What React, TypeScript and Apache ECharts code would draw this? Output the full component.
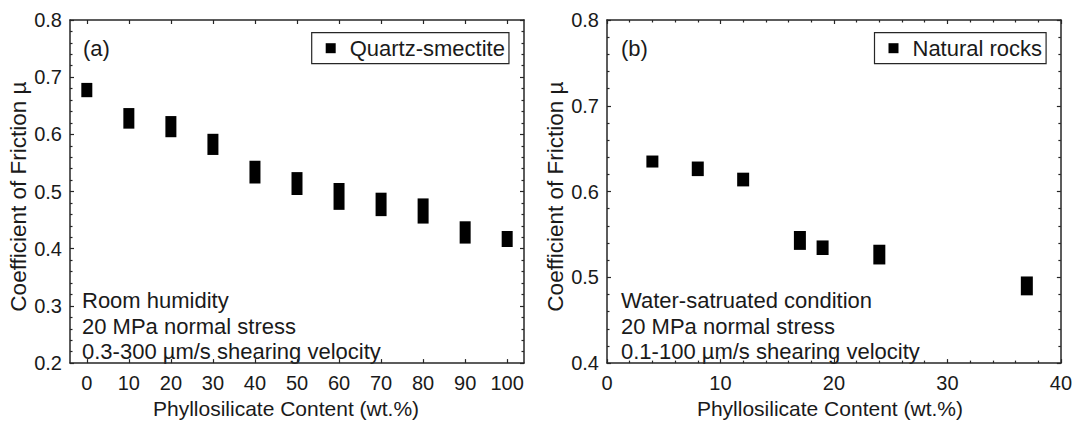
import React, { useEffect, useRef } from 'react';
import * as echarts from 'echarts';

// Panel (a): quartz-smectite mixtures, room humidity
const contentA = [0, 10, 20, 30, 40, 50, 60, 70, 80, 90, 100];
const lowA = [0.665, 0.61, 0.595, 0.564, 0.514, 0.494, 0.468, 0.457, 0.444, 0.409, 0.403];
const highA = [0.69, 0.646, 0.632, 0.601, 0.554, 0.534, 0.515, 0.498, 0.488, 0.448, 0.431];

// Panel (b): natural rocks, water-saturated
const contentB = [4, 8, 12, 17, 19, 24, 37];
const lowB = [0.628, 0.618, 0.606, 0.532, 0.526, 0.515, 0.479];
const highB = [0.642, 0.635, 0.622, 0.554, 0.543, 0.538, 0.501];

const xTicksA = [0, 10, 20, 30, 40, 50, 60, 70, 80, 90, 100];

const seriesNameA = 'Quartz-smectite';
const seriesNameB = 'Natural rocks';
const notesA = ['Room humidity', '20 MPa normal stress', '0.3-300 µm/s shearing velocity'];
const notesB = ['Water-satruated condition', '20 MPa normal stress', '0.1-100 µm/s shearing velocity'];
const yTitle = 'Coefficient of Friction µ';
const xTitle = 'Phyllosilicate Content (wt.%)';

const FONT = '"Liberation Sans", Arial, Helvetica, sans-serif';
const AX = '#262626';
const TXT = '#1a1a1a';

export default function App() {
  const ref = useRef<HTMLDivElement>(null);
  useEffect(() => {
    if (!ref.current) return;
    const chart = echarts.init(ref.current, undefined, { renderer: 'svg' });

    const axisLine = { show: true, onZero: false, lineStyle: { color: AX, width: 1.5 } };
    const tick = (extra: any = {}) => ({ show: true, inside: true, length: 4, lineStyle: { color: AX, width: 1.2 }, ...extra });
    const minor = (show: boolean) => ({ show, splitNumber: 5, length: 2.5, lineStyle: { color: AX, width: 1.2 } });
    const label = (show: boolean, extra: any = {}) => ({ show, color: TXT, fontSize: 20, fontFamily: FONT, ...extra });

    const xAxisCommon = (grid: number, position: 'top' | 'bottom', min: number, max: number, labels: boolean, custom?: number[], minorShow = false, shift = 0) => {
      const ax: any = {
        type: 'value', gridIndex: grid, position, min, max,
        axisLine, splitLine: { show: false },
        axisTick: tick(custom ? { customValues: custom } : {}),
        minorTick: minor(minorShow),
        axisLabel: label(labels, { margin: 10, ...(custom ? { customValues: custom } : {}) }),
      };
      if (!custom) ax.interval = 10;
      if (labels) {
        ax.name = xTitle; ax.nameLocation = 'middle'; ax.nameGap = 31;
        ax.nameTextStyle = { color: TXT, fontSize: 21, fontFamily: FONT, padding: [0, shift, 0, 0] };
      }
      return ax;
    };
    const yAxisCommon = (grid: number, position: 'left' | 'right', min: number, labels: boolean) => {
      const ax: any = {
        type: 'value', gridIndex: grid, position, min, max: 0.8, interval: 0.1,
        axisLine, splitLine: { show: false },
        axisTick: tick(), minorTick: minor(true),
        axisLabel: label(labels, { margin: 8, formatter: (v: number) => v.toFixed(1) }),
      };
      if (labels) {
        ax.name = yTitle; ax.nameLocation = 'middle'; ax.nameGap = 40;
        ax.nameTextStyle = { color: TXT, fontSize: 22.5, fontFamily: FONT, padding: [0, 10, 0, 0] };
      }
      return ax;
    };

    const rectSeries = (name: string, xs: number[], lo: number[], hi: number[], axisIdx: number, w: number) => ({
      type: 'custom', name, xAxisIndex: axisIdx, yAxisIndex: axisIdx,
      itemStyle: { color: '#000' },
      encode: { x: 0, y: [1, 2] },
      data: xs.map((x, i) => [x, lo[i], hi[i]]),
      renderItem: (params: any, api: any) => {
        const x = api.value(0);
        const top = api.coord([x, api.value(2)]);
        const bot = api.coord([x, api.value(1)]);
        return { type: 'rect', shape: { x: top[0] - w / 2, y: top[1], width: w, height: bot[1] - top[1] }, style: { fill: '#000' } };
      },
    });

    const legend = (name: string, left: number) => ({
      data: [name], left, top: 32.7, orient: 'horizontal', icon: 'rect', itemWidth: 10, itemHeight: 10,
      padding: [4.5, 4, 4.5, 14], borderColor: AX, borderWidth: 1.2, backgroundColor: '#fff', selectedMode: false,
      textStyle: { color: TXT, fontSize: 22, fontFamily: FONT, padding: [0, 0, 0, 9] },
    });

    const noteTexts = (lines: string[], x: number) => lines.map((t, i) => ({
      type: 'text', left: x, top: [289.5, 315.5, 340.5][i],
      style: { text: t, fill: TXT, fontSize: 22, fontFamily: FONT },
    }));

    chart.setOption({
      animation: false,
      backgroundColor: '#fff',
      grid: [
        { left: 70, top: 20, width: 454, height: 350 },
        { left: 607, top: 20, width: 454, height: 350 },
      ],
      xAxis: [
        xAxisCommon(0, 'bottom', -4, 104, true, xTicksA, false, 22),
        xAxisCommon(0, 'top', -4, 104, false, xTicksA),
        xAxisCommon(1, 'bottom', 0, 40, true, undefined, true, 8),
        xAxisCommon(1, 'top', 0, 40, false, undefined, true),
      ],
      yAxis: [
        yAxisCommon(0, 'left', 0.2, true),
        yAxisCommon(0, 'right', 0.2, false),
        yAxisCommon(1, 'left', 0.4, true),
        yAxisCommon(1, 'right', 0.4, false),
      ],
      legend: [legend(seriesNameA, 311.7), legend(seriesNameB, 874.5)],
      series: [
        rectSeries(seriesNameA, contentA, lowA, highA, 0, 11),
        rectSeries(seriesNameB, contentB, lowB, highB, 2, 12),
      ],
      graphic: [
        { type: 'text', left: 83, top: 37.5, style: { text: '(a)', fill: TXT, fontSize: 22, fontFamily: FONT } },
        { type: 'text', left: 621, top: 37.5, style: { text: '(b)', fill: TXT, fontSize: 22, fontFamily: FONT } },
        ...noteTexts(notesA, 82),
        ...noteTexts(notesB, 621),
      ],
    });
    return () => chart.dispose();
  }, []);
  return <div ref={ref} style={{ position: 'fixed', left: 0, top: 0, width: 1075, height: 424 }} />;
}
